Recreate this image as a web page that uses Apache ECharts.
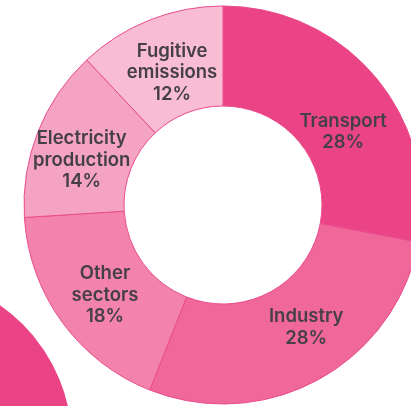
<!DOCTYPE html>
<html>
<head>
<meta charset="utf-8">
<script src="https://cdn.jsdelivr.net/npm/echarts@6/dist/echarts.min.js"></script>
<style>
  html, body { margin: 0; padding: 0; background: #fff; }
  #main { width: 411px; height: 406px; }
</style>
</head>
<body>
<div id="main"></div>
<script>
// sectors, clockwise from 12 o'clock
const sectors = ['Transport', 'Industry', 'Other\nsectors', 'Electricity\nproduction', 'Fugitive\nemissions'];
const shares = [28, 28, 18, 14, 12];
const colors = ['#EA4487', '#F0679A', '#F383AB', '#F5A3C3', '#F8BCD3'];
// nudge labels a bit off the slice middle
const labelShift = [[3, 24], [10, -11], [5, 1], [0, 11], [5, 9]];

const chart = echarts.init(document.getElementById('main'), null, { renderer: 'canvas' });

let data = sectors.map((name, i) => ({
  name: name,
  value: shares[i],
  itemStyle: { color: colors[i] }
}));

let option = {
  backgroundColor: '#fff',
  animation: false,
  graphic: [
    {
      // decorative blob bottom-left
      type: 'circle',
      shape: { cx: -96, cy: 443, r: 168 },
      style: { fill: '#EA4487' },
      z: 0
    }
  ],
  series: [
    {
      type: 'pie',
      center: [223, 205],
      radius: [99, 199],
      startAngle: 90,
      clockwise: true,
      avoidLabelOverlap: false,
      silent: true,
      itemStyle: {
        borderColor: '#EA4C8C',
        borderWidth: 1
      },
      label: {
        show: true,
        position: 'inside',
        formatter: '{b}\n{c}%',
        color: '#454045',
        fontFamily: 'Inter',
        fontWeight: 600,
        fontSize: 18.5,
        lineHeight: 21.5,
        align: 'center'
      },
      labelLine: { show: false },
      labelLayout: function (params) {
        let s = labelShift[params.dataIndex];
        return { dx: s[0], dy: s[1] };
      },
      data: data
    }
  ]
};

chart.setOption(option);
</script>
</body>
</html>
